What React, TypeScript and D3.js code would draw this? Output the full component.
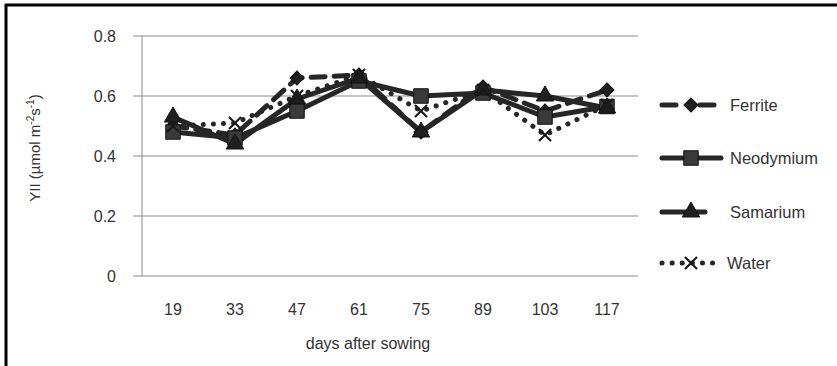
import React from "react";
import { scaleBand, scaleLinear, line, symbol, symbolSquare, symbolTriangle } from "d3";

const days = ["19", "33", "47", "61", "75", "89", "103", "117"];
const ferrite = [0.5, 0.47, 0.66, 0.67, 0.48, 0.63, 0.55, 0.62];
const neodymium = [0.48, 0.46, 0.55, 0.65, 0.6, 0.61, 0.53, 0.565];
const samarium = [0.53, 0.44, 0.59, 0.66, 0.48, 0.62, 0.6, 0.56];
const water = [0.5, 0.51, 0.6, 0.67, 0.55, 0.62, 0.47, 0.57];
const yTicks = [0, 0.2, 0.4, 0.6, 0.8];

const seriesNames = ["Ferrite", "Neodymium", "Samarium", "Water"];
const seriesValues = [ferrite, neodymium, samarium, water];

const W = 837;
const H = 366;
const margin = { top: 36, left: 142, right: 199, bottom: 90 };
const innerWidth = W - margin.left - margin.right;
const innerHeight = H - margin.top - margin.bottom;

const lineColor = "#262626";
const font = "'Liberation Sans', Arial, sans-serif";

const dashFor = (name: string) =>
  name === "Ferrite" ? "14 9" : name === "Water" ? "0.1 10" : undefined;

const Marker = ({ name, x, y }: { name: string; x: number; y: number }) => {
  if (name === "Water") {
    const s = 6;
    return (
      <g transform={`translate(${x},${y})`} stroke="#1a1a1a" strokeWidth={2.2}>
        <line x1={-s} y1={-s} x2={s} y2={s} />
        <line x1={-s} y1={s} x2={s} y2={-s} />
      </g>
    );
  }
  if (name === "Ferrite") {
    return (
      <path
        d={symbol(symbolSquare, 100)() as string}
        transform={`translate(${x},${y}) rotate(45)`}
        fill="#1f1f1f"
        stroke="#111"
        strokeWidth={1}
      />
    );
  }
  const type = name === "Neodymium" ? symbolSquare : symbolTriangle;
  const size = name === "Neodymium" ? 210 : 130;
  return (
    <path
      d={symbol(type, size)() as string}
      transform={`translate(${x},${y})`}
      fill={name === "Neodymium" ? "#3a3a3a" : "#1f1f1f"}
      stroke="#111"
      strokeWidth={1}
    />
  );
};

const App = () => {
  const xScale = scaleBand().domain(days).range([0, innerWidth]);
  const yScale = scaleLinear().domain([0, 0.8]).range([innerHeight, 0]);
  const cx = (d: string) => (xScale(d) as number) + xScale.bandwidth() / 2;

  const lineGen = line<number>()
    .x((_, i) => cx(days[i]))
    .y((v) => yScale(v));

  const legendY = [105, 158, 212, 263];

  return (
    <svg width={W} height={H} style={{ position: "absolute", left: 0, top: 0 }}>
      <rect x={0} y={0} width={W} height={H} fill="#fff" />
      <line x1={5} y1={5} x2={W} y2={5} stroke="#000" strokeWidth={3} />
      <line x1={6} y1={4} x2={6} y2={H} stroke="#000" strokeWidth={3} />
      <g transform={`translate(${margin.left},${margin.top})`}>
        {yTicks.map((t) => (
          <g key={t} transform={`translate(0,${yScale(t)})`}>
            <line x1={-9} x2={innerWidth} stroke="#8a8a8a" strokeWidth={1} />
            <text
              x={-26}
              dy="0.35em"
              textAnchor="end"
              fontFamily={font}
              fontSize={16}
              fill="#333"
            >
              {t === 0 ? "0" : t.toFixed(1)}
            </text>
          </g>
        ))}
        <line x1={0} x2={0} y1={0} y2={innerHeight} stroke="#8a8a8a" strokeWidth={1} />
        {days.map((d) => (
          <text
            key={d}
            x={cx(d)}
            y={innerHeight + 39}
            textAnchor="middle"
            fontFamily={font}
            fontSize={16}
            fill="#333"
          >
            {d}
          </text>
        ))}
        <text
          x={innerWidth / 2 - 22}
          y={innerHeight + 73}
          textAnchor="middle"
          fontFamily={font}
          fontSize={16}
          fill="#333"
        >
          days after sowing
        </text>
        {seriesNames.map((name, k) => (
          <path
            key={name}
            d={lineGen(seriesValues[k]) as string}
            fill="none"
            stroke={lineColor}
            strokeWidth={5}
            strokeLinecap="round"
            strokeLinejoin="round"
            strokeDasharray={dashFor(name)}
          />
        ))}
        {seriesNames.map((name, k) => (
          <g key={name}>
            {seriesValues[k].map((v, i) => (
              <Marker key={i} name={name} x={cx(days[i])} y={yScale(v)} />
            ))}
          </g>
        ))}
      </g>
      <text
        transform="translate(40,148) rotate(-90)"
        textAnchor="middle"
        fontFamily={font}
        fontSize={15}
        fill="#333"
      >
        YII (µmol m<tspan dy={-6} fontSize={10}>-2</tspan>
        <tspan dy={6}>s</tspan>
        <tspan dy={-6} fontSize={10}>-1</tspan>
        <tspan dy={6}>)</tspan>
      </text>
      {seriesNames.map((name, k) => (
        <g key={name} transform={`translate(0,${legendY[k]})`}>
          <line
            x1={662}
            x2={name === "Samarium" ? 705 : 721}
            stroke={lineColor}
            strokeWidth={5}
            strokeLinecap="round"
            strokeDasharray={name === "Ferrite" ? "14 24" : dashFor(name)}
          />
          <Marker name={name} x={691} y={0} />
          <text
            x={name === "Water" ? 727 : 730}
            dy="0.35em"
            fontFamily={font}
            fontSize={16.5}
            fill="#333"
          >
            {name}
          </text>
        </g>
      ))}
    </svg>
  );
};

export default App;
